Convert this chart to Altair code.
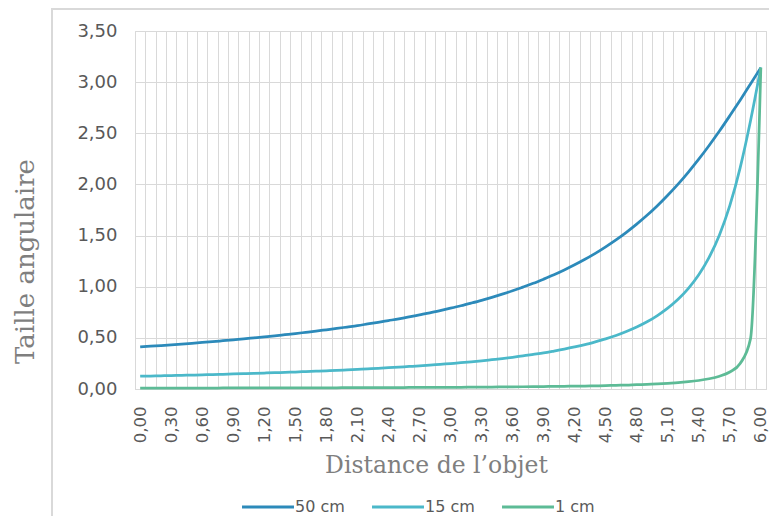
import altair as alt
import pandas as pd

# Distance categories (x axis)
distance = [0.0, 0.1, 0.2, 0.3, 0.4, 0.5, 0.6, 0.7, 0.8, 0.9,
            1.0, 1.1, 1.2, 1.3, 1.4, 1.5, 1.6, 1.7, 1.8, 1.9,
            2.0, 2.1, 2.2, 2.3, 2.4, 2.5, 2.6, 2.7, 2.8, 2.9,
            3.0, 3.1, 3.2, 3.3, 3.4, 3.5, 3.6, 3.7, 3.8, 3.9,
            4.0, 4.1, 4.2, 4.3, 4.4, 4.5, 4.6, 4.7, 4.8, 4.9,
            5.0, 5.1, 5.2, 5.3, 5.4, 5.5, 5.6, 5.7, 5.8, 5.9, 6.0]

# Angular size series
taille_50cm = [0.411, 0.418, 0.425, 0.432, 0.439, 0.447, 0.455, 0.463, 0.472, 0.481,
               0.490, 0.500, 0.510, 0.520, 0.531, 0.542, 0.554, 0.566, 0.579, 0.592,
               0.606, 0.620, 0.636, 0.652, 0.669, 0.686, 0.705, 0.725, 0.745, 0.767,
               0.790, 0.814, 0.840, 0.867, 0.896, 0.927, 0.960, 0.996, 1.033, 1.074,
               1.117, 1.164, 1.214, 1.268, 1.326, 1.390, 1.458, 1.532, 1.612, 1.698,
               1.792, 1.894, 2.003, 2.121, 2.247, 2.381, 2.522, 2.671, 2.824, 2.982, 3.142]

taille_15cm = [0.125, 0.127, 0.129, 0.131, 0.134, 0.136, 0.139, 0.141, 0.144, 0.147,
               0.150, 0.153, 0.156, 0.159, 0.163, 0.166, 0.170, 0.174, 0.178, 0.182,
               0.187, 0.192, 0.197, 0.202, 0.208, 0.214, 0.220, 0.226, 0.233, 0.241,
               0.249, 0.257, 0.266, 0.276, 0.287, 0.298, 0.310, 0.323, 0.338, 0.353,
               0.371, 0.390, 0.411, 0.434, 0.461, 0.490, 0.523, 0.562, 0.606, 0.657,
               0.718, 0.790, 0.877, 0.984, 1.117, 1.287, 1.506, 1.792, 2.162, 2.620, 3.142]

taille_1cm = [0.008, 0.008, 0.009, 0.009, 0.009, 0.009, 0.009, 0.009, 0.010, 0.010,
              0.010, 0.010, 0.010, 0.011, 0.011, 0.011, 0.011, 0.012, 0.012, 0.012,
              0.013, 0.013, 0.013, 0.014, 0.014, 0.014, 0.015, 0.015, 0.016, 0.016,
              0.017, 0.017, 0.018, 0.019, 0.019, 0.020, 0.021, 0.022, 0.023, 0.024,
              0.025, 0.026, 0.028, 0.029, 0.031, 0.033, 0.036, 0.038, 0.042, 0.045,
              0.050, 0.056, 0.062, 0.071, 0.083, 0.100, 0.125, 0.166, 0.249, 0.490, 3.142]

series_names = ["50 cm", "15 cm", "1 cm"]
series_colors = ["#2C8ABA", "#4BB8C9", "#5DBB96"]
y_ticks = [0.0, 0.5, 1.0, 1.5, 2.0, 2.5, 3.0, 3.5]

rows = []
for name, vals in zip(series_names, [taille_50cm, taille_15cm, taille_1cm]):
    for d, v in zip(distance, vals):
        rows.append({"distance": d, "taille": v, "serie": name})
df = pd.DataFrame(rows)

W, H = 631, 358
GRID = "#d9d9d9"
LABEL_COLOR = "#595959"
TITLE_COLOR = "#7f7f7f"
TICK_FONT = "DejaVu Sans"
TITLE_FONT = "DejaVu Serif"

lines = alt.Chart(df).mark_line(strokeWidth=2.75, interpolate="monotone").encode(
    x=alt.X(
        "distance:O",
        scale=alt.Scale(type="band", paddingInner=0, paddingOuter=0),
        axis=alt.Axis(
            title="Distance de l’objet",
            tickBand="extent",
            ticks=False,
            grid=True,
            gridColor=GRID,
            gridWidth=1,
            domainColor=GRID,
            labelAngle=-90,
            labelExpr="round(datum.value*10) % 3 == 0 ? replace(format(datum.value, '.2f'), '.', ',') : ''",
            labelFont=TICK_FONT,
            labelFontSize=16.5,
            labelColor=LABEL_COLOR,
            labelPadding=17,
            labelOverlap=False,
            titleFont=TITLE_FONT,
            titleFontSize=23.5,
            titleFontWeight="normal",
            titleColor=TITLE_COLOR,
            titleX=301,
            titleY=76,
            titleBaseline="middle",
            titleAlign="center",
        ),
    ),
    y=alt.Y(
        "taille:Q",
        scale=alt.Scale(domain=[0, 3.5], nice=False, zero=True),
        axis=alt.Axis(
            title="Taille angulaire",
            values=y_ticks,
            labelExpr="replace(format(datum.value, '.2f'), '.', ',')",
            ticks=False,
            domain=False,
            grid=True,
            gridColor=GRID,
            gridWidth=1,
            labelFont=TICK_FONT,
            labelFontSize=18,
            labelColor=LABEL_COLOR,
            labelPadding=18,
            titleFont=TITLE_FONT,
            titleFontSize=26,
            titleFontWeight="normal",
            titleColor=TITLE_COLOR,
            titleX=-110,
            titleY=230,
            titleAlign="center",
            titleBaseline="middle",
            titleAngle=-90,
        ),
    ),
    color=alt.Color(
        "serie:N",
        scale=alt.Scale(domain=series_names, range=series_colors),
        sort=series_names,
        legend=alt.Legend(
            title=None,
            orient="none",
            direction="horizontal",
            legendX=125,
            legendY=468,
            symbolType="M-5,0H5",
            symbolSize=108,
            symbolStrokeWidth=3,
            symbolFillColor="transparent",
            labelFont=TICK_FONT,
            labelFontSize=16,
            labelColor=LABEL_COLOR,
            labelOffset=19,
            columnPadding=21,
            padding=0,
        ),
    ),
)

frame_df = pd.DataFrame({"k": [0]})
frame_left = alt.Chart(frame_df).mark_rule(color="#d9d9d9", strokeWidth=2).encode(
    x=alt.value(-83), y=alt.value(-23), y2=alt.value(H + 140)
)
frame_top = alt.Chart(frame_df).mark_rule(color="#d9d9d9", strokeWidth=2).encode(
    x=alt.value(-83), x2=alt.value(W + 20), y=alt.value(-22)
)

chart = alt.layer(frame_left, frame_top, lines).properties(
    width=W,
    height=H,
    autosize=alt.AutoSizeParams(type="none"),
    padding={"left": 127, "top": 23, "right": 3, "bottom": 127},
    background="white",
).configure_view(stroke=GRID, strokeWidth=1)

chart.save("out.html", embed_options={"renderer": "svg", "actions": False})
